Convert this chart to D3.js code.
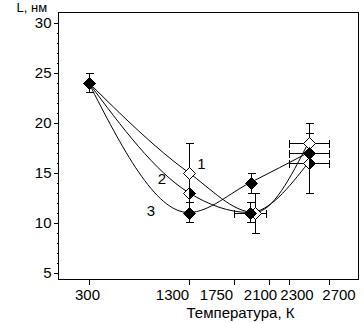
<!DOCTYPE html>
<html>
<head>
<meta charset="utf-8">
<script src="https://cdn.jsdelivr.net/npm/d3@7"></script>
<style>
  html, body { margin: 0; padding: 0; background: #fff; }
  svg { display: block; }
  text { font-family: "Liberation Sans", Arial, sans-serif; fill: #000; }
</style>
</head>
<body>
<svg id="chart" width="364" height="323"></svg>
<script>
// ---- data ----
const xTickValues = [300, 1300, 1750, 2100, 2300, 2700];
const yTickValues = [5, 10, 15, 20, 25, 30];
const xTitle = "Температура, К";
const yTitle = "L, нм";
const seriesNames = ["1", "2", "3"];

const temps1 = [300, 1300, 1960, 2500];
const vals1  = [24, 15, 11, 18];
const yErr1  = [1, 3, 2, 2];
const xErr1  = [0, 0, 0, 200];

const temps2 = [300, 1300, 1910, 2500];
const vals2  = [24, 13, 11, 16];
const yErr2  = [1, 0, 1, 3];
const xErr2  = [0, 0, 160, 200];

const temps3 = [300, 1300, 1920, 2500];
const vals3  = [24, 11, 14, 17];
const yErr3  = [1, 1, 1, 1];
const xErr3  = [0, 0, 0, 200];

// ---- styles / layout ----
const markerStyles = [
  ["open", "open", "open", "open"],
  ["half", "half", "filled", "half"],
  ["filled", "filled", "filled", "filled"]
];
const labelPos = [[201.5, 163.5], [162, 179], [151, 210.5]];
// pixel centres of the x tick labels (the original spreads them to avoid overlap)
const xLabelCentres = [87, 172, 216, 260, 296.5, 338.5];

const svg = d3.select("#chart");
const L = 58.5, R = 358.5, T = 12.5, B = 279.5;
const x = d3.scaleLinear().domain([0, 3000]).range([L, R]);
const y = d3.scaleLinear().domain([4.3, 31]).range([B, T]);

const series = [
  {t: temps1, v: vals1, ye: yErr1, xe: xErr1},
  {t: temps2, v: vals2, ye: yErr2, xe: xErr2},
  {t: temps3, v: vals3, ye: yErr3, xe: xErr3}
].map((s, k) => ({
  name: seriesNames[k],
  pts: s.t.map((t, i) => ({t, v: s.v[i], ye: s.ye[i], xe: s.xe[i], m: markerStyles[k][i]}))
}));

// frame
svg.append("rect").attr("x", L).attr("y", T).attr("width", R - L).attr("height", B - T)
  .attr("fill", "none").attr("stroke", "#000").attr("stroke-width", 1);

// y axis major
const yAx = svg.append("g").attr("transform", `translate(${L},0)`)
  .call(d3.axisLeft(y).tickValues(yTickValues).tickSize(5).tickSizeOuter(0).tickPadding(2));
yAx.select(".domain").remove();
yAx.selectAll("text").style("font-size", "15px").style("font-family", '"Liberation Sans", Arial, sans-serif').attr("dy", "0.36em");
// y axis minor
const minor = d3.range(5, 31, 1).filter(v => !yTickValues.includes(v));
const yMin = svg.append("g").attr("transform", `translate(${L},0)`)
  .call(d3.axisLeft(y).tickValues(minor).tickSize(2).tickFormat(""));
yMin.select(".domain").remove();

// x axis
const xAx = svg.append("g").attr("transform", `translate(0,${B})`)
  .call(d3.axisBottom(x).tickValues(xTickValues).tickSize(5).tickSizeOuter(0).tickPadding(5).tickFormat(d3.format("d")));
xAx.select(".domain").remove();
xAx.selectAll("text").style("font-size", "15px").style("font-family", '"Liberation Sans", Arial, sans-serif')
  .attr("x", (d, i) => xLabelCentres[i] - x(d));

svg.selectAll(".tick line").attr("shape-rendering", "crispEdges");

// titles
svg.append("text").attr("x", 240.5).attr("y", 318).attr("text-anchor", "middle")
  .style("font-size", "15px").text(xTitle);
svg.append("text").attr("x", 16.5).attr("y", 12).attr("text-anchor", "start")
  .style("font-size", "13px").text(yTitle);

// curves
const line = d3.line().x(d => x(d.t)).y(d => y(d.v)).curve(d3.curveMonotoneX);
series.forEach(s => {
  svg.append("path").attr("d", line(s.pts)).attr("fill", "none")
    .attr("stroke", "#000").attr("stroke-width", 1);
});

// error bars
const cap = 4;
const eb = svg.append("g").attr("stroke", "#000").attr("stroke-width", 1).attr("shape-rendering", "crispEdges");
series.forEach(s => {
  s.pts.forEach(p => {
    const cx = Math.round(x(p.t)) + 0.5, cy = Math.round(y(p.v)) + 0.5;
    if (p.ye > 0) {
      const y1 = Math.round(y(p.v + p.ye)) + 0.5, y2 = Math.round(y(p.v - p.ye)) + 0.5;
      eb.append("line").attr("x1", cx).attr("x2", cx).attr("y1", y1).attr("y2", y2);
      eb.append("line").attr("x1", cx - cap).attr("x2", cx + cap).attr("y1", y1).attr("y2", y1);
      eb.append("line").attr("x1", cx - cap).attr("x2", cx + cap).attr("y1", y2).attr("y2", y2);
    }
    if (p.xe > 0) {
      const x1 = Math.round(x(p.t - p.xe)) + 0.5, x2 = Math.round(x(p.t + p.xe)) + 0.5;
      eb.append("line").attr("x1", x1).attr("x2", x2).attr("y1", cy).attr("y2", cy);
      eb.append("line").attr("x1", x1).attr("x2", x1).attr("y1", cy - cap).attr("y2", cy + cap);
      eb.append("line").attr("x1", x2).attr("x2", x2).attr("y1", cy - cap).attr("y2", cy + cap);
    }
  });
});

// markers
const r = 6;
const mk = svg.append("g");
series.forEach(s => {
  s.pts.forEach(p => {
    const cx = Math.round(x(p.t)) + 0.5, cy = Math.round(y(p.v)) + 0.5;
    const dia = `M${cx},${cy - r}L${cx + r},${cy}L${cx},${cy + r}L${cx - r},${cy}Z`;
    if (p.m === "filled") {
      mk.append("path").attr("d", dia).attr("fill", "#000").attr("stroke", "#000");
    } else {
      mk.append("path").attr("d", dia).attr("fill", "#fff").attr("stroke", "#000");
      if (p.m === "half") {
        mk.append("path").attr("d", `M${cx},${cy - r}L${cx + r},${cy}L${cx},${cy + r}Z`)
          .attr("fill", "#000").attr("stroke", "#000");
      }
    }
  });
});

// series labels
series.forEach((s, k) => {
  svg.append("text").attr("x", labelPos[k][0]).attr("y", labelPos[k][1]).attr("dy", "0.36em")
    .attr("text-anchor", "middle").style("font-size", "15px").text(s.name);
});
</script>
</body>
</html>
